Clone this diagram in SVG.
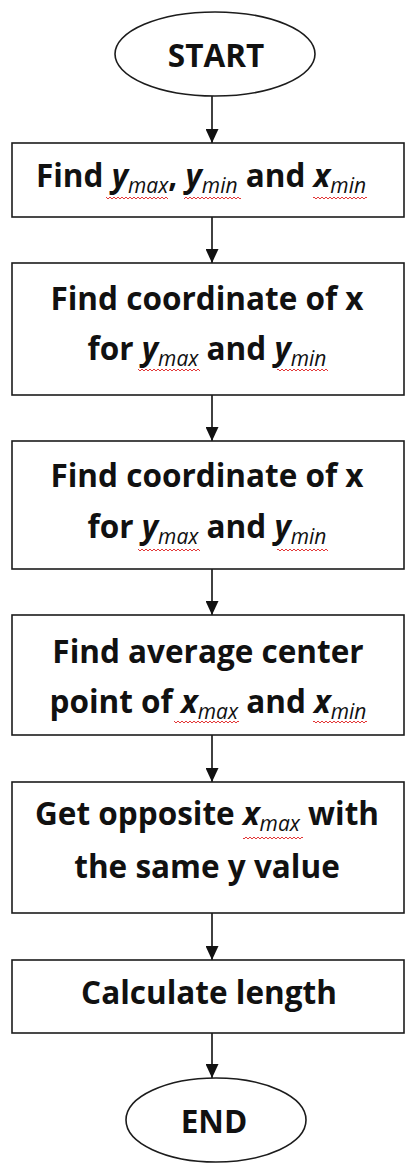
<svg xmlns="http://www.w3.org/2000/svg" width="414" height="1164" viewBox="0 0 414 1164">
  <defs>
    <style>
      .shape { fill: #ffffff; stroke: #1c1c1c; stroke-width: 1.6; }
      .label { font-family: "Open Sans", Lato, "Liberation Sans", sans-serif; font-weight: 700; font-size: 31.5px; fill: #111111; text-anchor: middle; }
      .var { font-style: italic; }
      .sub { font-style: italic; font-weight: 400; font-size: 21px; }
      .edge { stroke: #111111; stroke-width: 1.6; fill: none; marker-end: url(#arrow); }
      .squig { fill: url(#wave); }
    </style>
    <marker id="arrow" markerWidth="14" markerHeight="13" refX="14" refY="6.5" orient="auto" markerUnits="userSpaceOnUse">
      <path d="M0 0 L14 6.5 L0 13 Z" fill="#111111"/>
    </marker>
    <!-- spell-check style wavy underline -->
    <pattern id="wave" width="4" height="4" patternUnits="userSpaceOnUse">
      <path d="M0 3 L2 1 L4 3" stroke="#e02020" stroke-width="0.9" fill="none"/>
    </pattern>
  </defs>

  <!-- connectors -->
  <g id="connectors">
    <line class="edge" x1="212" y1="96" x2="212" y2="143"/>
    <line class="edge" x1="212" y1="217" x2="212" y2="263"/>
    <line class="edge" x1="212" y1="395" x2="212" y2="441"/>
    <line class="edge" x1="212" y1="569" x2="212" y2="615"/>
    <line class="edge" x1="212" y1="735" x2="212" y2="782"/>
    <line class="edge" x1="212" y1="913" x2="212" y2="960"/>
    <line class="edge" x1="212" y1="1033" x2="212" y2="1078"/>
  </g>

  <g id="start">
    <ellipse class="shape" cx="215" cy="54" rx="100" ry="42"/>
    <text class="label" x="216" y="67">START</text>
  </g>

  <g id="step1">
    <rect class="shape" x="12" y="143" width="392" height="74"/>
    <text class="label" x="201" y="187">Find <tspan class="var">y</tspan><tspan class="sub" dy="6">max</tspan><tspan dy="-6">, </tspan><tspan class="var">y</tspan><tspan class="sub" dy="6">min</tspan><tspan dy="-6"> and </tspan><tspan class="var">x</tspan><tspan class="sub" dy="6">min</tspan></text>
    <rect class="squig" x="106" y="196" width="62" height="4"/>
    <rect class="squig" x="184" y="196" width="57" height="4"/>
    <rect class="squig" x="313" y="196" width="54" height="4"/>
  </g>

  <g id="step2">
    <rect class="shape" x="12" y="263" width="392" height="132"/>
    <text class="label" x="207" y="310">Find coordinate of x</text>
    <text class="label" x="207" y="360">for <tspan class="var">y</tspan><tspan class="sub" dy="6">max</tspan><tspan dy="-6"> and </tspan><tspan class="var">y</tspan><tspan class="sub" dy="6">min</tspan></text>
    <rect class="squig" x="138" y="368" width="62" height="4"/>
    <rect class="squig" x="277" y="368" width="51" height="4"/>
  </g>

  <g id="step3">
    <rect class="shape" x="12" y="441" width="392" height="128"/>
    <text class="label" x="207" y="487">Find coordinate of x</text>
    <text class="label" x="207" y="538">for <tspan class="var">y</tspan><tspan class="sub" dy="6">max</tspan><tspan dy="-6"> and </tspan><tspan class="var">y</tspan><tspan class="sub" dy="6">min</tspan></text>
    <rect class="squig" x="138" y="548" width="62" height="4"/>
    <rect class="squig" x="277" y="548" width="51" height="4"/>
  </g>

  <g id="step4">
    <rect class="shape" x="12" y="615" width="392" height="120"/>
    <text class="label" x="208" y="663">Find average center</text>
    <text class="label" x="208" y="713">point of <tspan class="var">x</tspan><tspan class="sub" dy="6">max</tspan><tspan dy="-6"> and </tspan><tspan class="var">x</tspan><tspan class="sub" dy="6">min</tspan></text>
    <rect class="squig" x="174" y="720" width="65" height="4"/>
    <rect class="squig" x="313" y="720" width="54" height="4"/>
  </g>

  <g id="step5">
    <rect class="shape" x="12" y="782" width="392" height="131"/>
    <text class="label" x="207" y="825">Get opposite <tspan class="var">x</tspan><tspan class="sub" dy="6">max</tspan><tspan dy="-6"> with</tspan></text>
    <text class="label" x="207" y="878">the same y value</text>
    <rect class="squig" x="243" y="836" width="60" height="4"/>
  </g>

  <g id="step6">
    <rect class="shape" x="12" y="960" width="392" height="73"/>
    <text class="label" x="209" y="1004">Calculate length</text>
  </g>

  <g id="end">
    <ellipse class="shape" cx="216" cy="1120" rx="90" ry="42"/>
    <text class="label" x="214" y="1133">END</text>
  </g>
</svg>
